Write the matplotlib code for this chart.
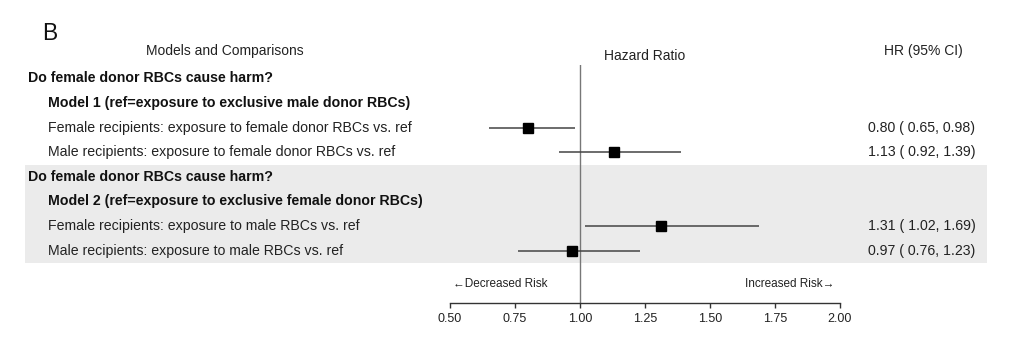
import matplotlib
matplotlib.use("Agg")
import matplotlib.pyplot as plt
from matplotlib.patches import Rectangle
from matplotlib.transforms import blended_transform_factory

plt.rcParams['font.family'] = ['Liberation Sans', 'DejaVu Sans']

# ---- data ----
row_labels = [
    "Do female donor RBCs cause harm?",
    "Model 1 (ref=exposure to exclusive male donor RBCs)",
    "Female recipients: exposure to female donor RBCs vs. ref",
    "Male recipients: exposure to female donor RBCs vs. ref",
    "Do female donor RBCs cause harm?",
    "Model 2 (ref=exposure to exclusive female donor RBCs)",
    "Female recipients: exposure to male RBCs vs. ref",
    "Male recipients: exposure to male RBCs vs. ref",
]
row_level = [0, 1, 2, 2, 0, 1, 2, 2]   # 0 = group header, 1 = model header, 2 = comparison
hr = [None, None, 0.80, 1.13, None, None, 1.31, 0.97]
lo = [None, None, 0.65, 0.92, None, None, 1.02, 0.76]
hi = [None, None, 0.98, 1.39, None, None, 1.69, 1.23]
ci_text = [None, None, "0.80 ( 0.65, 0.98)", "1.13 ( 0.92, 1.39)",
           None, None, "1.31 ( 1.02, 1.69)", "0.97 ( 0.76, 1.23)"]
xticks = [0.50, 0.75, 1.00, 1.25, 1.50, 1.75, 2.00]
shaded_rows = (4, 7)

W, H = 1024, 341
fig = plt.figure(figsize=(W / 100, H / 100), dpi=100)

# forest axes: x from 0.5 (px 450) to 2.0 (px 840); top px 65, bottom px 303
ax = fig.add_axes([450 / W, (H - 303) / H, 390 / W, (303 - 65) / H])
row0_px, step = 78.5, 24.6
ax.set_xlim(0.5, 2.0)
ax.set_ylim((303 - row0_px) / step, (65 - row0_px) / step)
ax.patch.set_alpha(0)

for s in ("top", "right", "left"):
    ax.spines[s].set_visible(False)
ax.spines["bottom"].set_color("#333333")
ax.spines["bottom"].set_linewidth(1.0)
ax.set_yticks([])
ax.set_xticks(xticks)
ax.set_xticklabels([f"{t:.2f}" for t in xticks], fontsize=9, color="#222222")
ax.tick_params(axis="x", length=3.5, width=1.0, color="#333333", pad=4)

tx = blended_transform_factory(fig.transFigure, ax.transData)

# shaded band
y0, y1 = shaded_rows
band = Rectangle((25 / W, y0 - 0.5), (987 - 25) / W, (y1 - y0) + 1.0,
                 transform=tx, facecolor="#ebebeb", edgecolor="none",
                 zorder=0, clip_on=False)
ax.add_patch(band)

# reference line
ax.axvline(1.0, color="#777777", lw=1.0, zorder=1)

# rows
indent = {0: 28, 1: 48, 2: 48}
for i, (lab, lev) in enumerate(zip(row_labels, row_level)):
    ax.text(indent[lev] / W, i, lab, transform=tx, ha="left", va="center",
            fontsize=10.2, fontweight="bold" if lev < 2 else "normal",
            color="#111111" if lev < 2 else "#222222", clip_on=False)
    if hr[i] is not None:
        ax.plot([lo[i], hi[i]], [i, i], color="#444444", lw=1.1, zorder=2,
                solid_capstyle="butt")
        ax.plot([hr[i]], [i], marker="s", ms=7.5, color="black", zorder=3,
                linestyle="none")
        ax.text(868 / W, i, ci_text[i], transform=tx, ha="left", va="center",
                fontsize=10.2, color="#222222", clip_on=False)

# headers
hdr_y = (51 - row0_px) / step
ax.text(225 / W, hdr_y, "Models and Comparisons", transform=tx, ha="center",
        va="center", fontsize=10, color="#222222", clip_on=False)
ax.text(645 / W, (56 - row0_px) / step, "Hazard Ratio", transform=tx, ha="center",
        va="center", fontsize=10, color="#222222", clip_on=False)
ax.text(923 / W, hdr_y, "HR (95% CI)", transform=tx, ha="center",
        va="center", fontsize=10, color="#222222", clip_on=False)

# risk direction labels
risk_y = (284 - row0_px) / step
ax.text(453 / W, risk_y, "\u2190Decreased Risk", transform=tx, ha="left",
        va="center", fontsize=8.5, color="#222222", clip_on=False)
ax.text(834 / W, risk_y, "Increased Risk\u2192", transform=tx, ha="right",
        va="center", fontsize=8.5, color="#222222", clip_on=False)

# panel letter
fig.text(42 / W, 1 - 34 / H, "B", fontsize=16.5, ha="left", va="center",
         color="#111111")

fig.savefig("out.png", dpi=100, facecolor="white")
